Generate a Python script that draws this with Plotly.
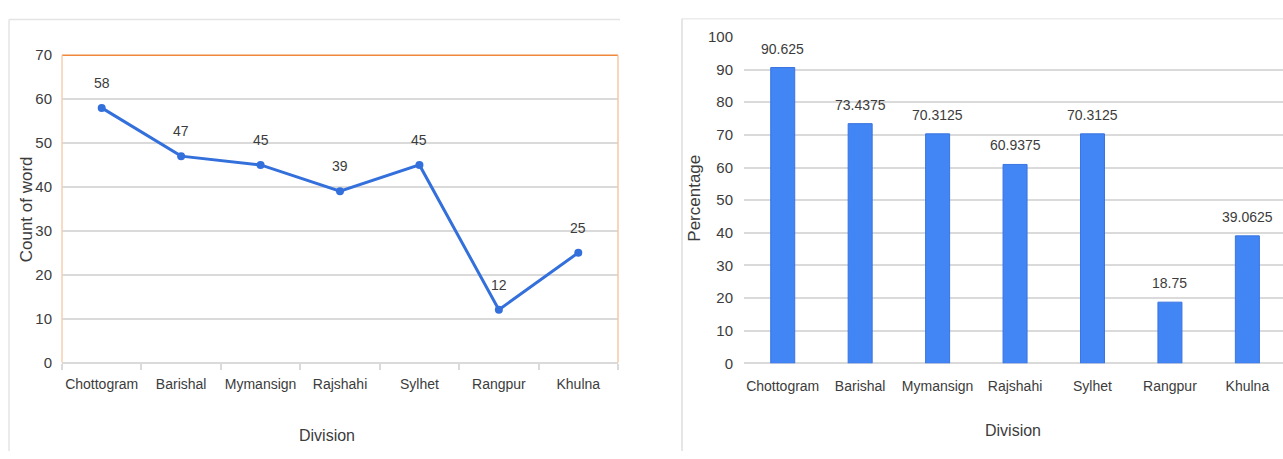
import plotly.graph_objects as go

# Divisions and the two measures plotted per division
divisions = ["Chottogram", "Barishal", "Mymansign", "Rajshahi", "Sylhet", "Rangpur", "Khulna"]
word_counts = [58, 47, 45, 39, 45, 12, 25]
percentages = [90.625, 73.4375, 70.3125, 60.9375, 70.3125, 18.75, 39.0625]

W, H = 1283, 459
FONT = "Liberation Sans, Arial, sans-serif"
TXT = "#3c3c3c"
GRID = "#dadada"
LINE_BLUE = "#3370dc"
BAR_BLUE = "#4285f4"


def px(x):
    return x / W


def py(y):
    return 1 - y / H


fig = go.Figure()

# Left panel: line chart of word counts
fig.add_trace(go.Scatter(
    x=divisions, y=word_counts, mode="lines+markers",
    line=dict(color=LINE_BLUE, width=3),
    marker=dict(color=LINE_BLUE, size=8),
    xaxis="x", yaxis="y", showlegend=False, hoverinfo="skip",
))

# Right panel: bar chart of percentages
fig.add_trace(go.Bar(
    x=divisions, y=percentages,
    marker=dict(color=BAR_BLUE, line=dict(color="#3a74e0", width=1)),
    xaxis="x2", yaxis="y2", showlegend=False, hoverinfo="skip",
))

lbl = dict(family=FONT, size=14, color=TXT)
annotations = []
for d, v in zip(divisions, word_counts):
    annotations.append(dict(x=d, y=v, xref="x", yref="y", text=str(v), showarrow=False,
                            xanchor="center", yanchor="middle", yshift=25, font=lbl))
for d, v in zip(divisions, percentages):
    annotations.append(dict(x=d, y=v, xref="x2", yref="y2", text=f"{v:g}", showarrow=False,
                            xanchor="center", yanchor="middle", yshift=19, font=lbl))

# Axis titles
title_font = dict(family=FONT, size=17, color=TXT)
annotations += [
    dict(x=px(26), y=py(208), xref="paper", yref="paper", text="Count of word", textangle=-90,
         xanchor="center", yanchor="middle", showarrow=False, font=title_font),
    dict(x=px(327), y=py(443), xref="paper", yref="paper", text="Division",
         xanchor="center", yanchor="middle", showarrow=False, font=dict(family=FONT, size=16, color=TXT)),
    dict(x=px(695), y=py(197), xref="paper", yref="paper", text="Percentage", textangle=-90,
         xanchor="center", yanchor="middle", showarrow=False, font=title_font),
    dict(x=px(1013), y=py(438), xref="paper", yref="paper", text="Division",
         xanchor="center", yanchor="middle", showarrow=False, font=dict(family=FONT, size=16, color=TXT)),
]

shapes = [
    # left panel frame
    dict(type="line", xref="paper", yref="paper", x0=px(9), x1=px(620), y0=py(11), y1=py(11),
         line=dict(color="#e4e4e4", width=1.5)),
    dict(type="line", xref="paper", yref="paper", x0=px(9), x1=px(9), y0=py(11), y1=0,
         line=dict(color="#e4e4e4", width=1.5)),
    # right panel frame
    dict(type="line", xref="paper", yref="paper", x0=px(682), x1=1, y0=py(10), y1=py(10),
         line=dict(color="#ececec", width=1.5)),
    dict(type="line", xref="paper", yref="paper", x0=px(682), x1=px(682), y0=py(10), y1=0,
         line=dict(color="#dedede", width=1.5)),
    # plot-area border of the line chart
    dict(type="line", xref="paper", yref="paper", x0=px(62), x1=px(618), y0=py(48), y1=py(48),
         line=dict(color="#f0883c", width=1.5)),
    dict(type="line", xref="paper", yref="paper", x0=px(62), x1=px(62), y0=py(48), y1=py(367),
         line=dict(color="#f6cfb2", width=1.5)),
    dict(type="line", xref="paper", yref="paper", x0=px(618), x1=px(618), y0=py(48), y1=py(367),
         line=dict(color="#f6c7a4", width=1.5)),
]

tickfont = dict(family=FONT, size=14, color=TXT)
ytickfont = dict(family=FONT, size=15, color=TXT)

fig.update_layout(
    width=W, height=H,
    margin=dict(l=0, r=0, t=0, b=0),
    paper_bgcolor="white", plot_bgcolor="white",
    bargap=0.69,
    annotations=annotations,
    shapes=shapes,
    xaxis=dict(domain=[px(62), px(618)], type="category", range=[-0.5, 6.5],
               showgrid=False, showline=True, linecolor=GRID, linewidth=2,
               ticks="outside", tickson="boundaries", ticklen=6, tickcolor=GRID, tickwidth=1.5,
               tickangle=0, ticklabelstandoff=8,
               tickfont=tickfont, zeroline=False, fixedrange=True),
    yaxis=dict(domain=[py(367), py(48)], range=[0, 70], dtick=10,
               showgrid=True, gridcolor=GRID, gridwidth=2, zeroline=False,
               showline=False, ticks="", ticklabelstandoff=9,
               tickfont=ytickfont, fixedrange=True),
    xaxis2=dict(domain=[px(744), 1], type="category", range=[-0.5, 6.46],
                showgrid=False, showline=False, ticks="", anchor="y2", tickangle=0,
                ticklabelstandoff=13,
                tickfont=tickfont, zeroline=False, fixedrange=True),
    yaxis2=dict(domain=[py(368), py(29)], range=[0, 100], dtick=10, anchor="x2",
                showgrid=True, gridcolor=GRID, gridwidth=2, zeroline=True,
                zerolinecolor=GRID, zerolinewidth=2, showline=False, ticks="",
                ticklabelstandoff=10, tickfont=ytickfont, fixedrange=True),
)

fig.write_html("out.html")
